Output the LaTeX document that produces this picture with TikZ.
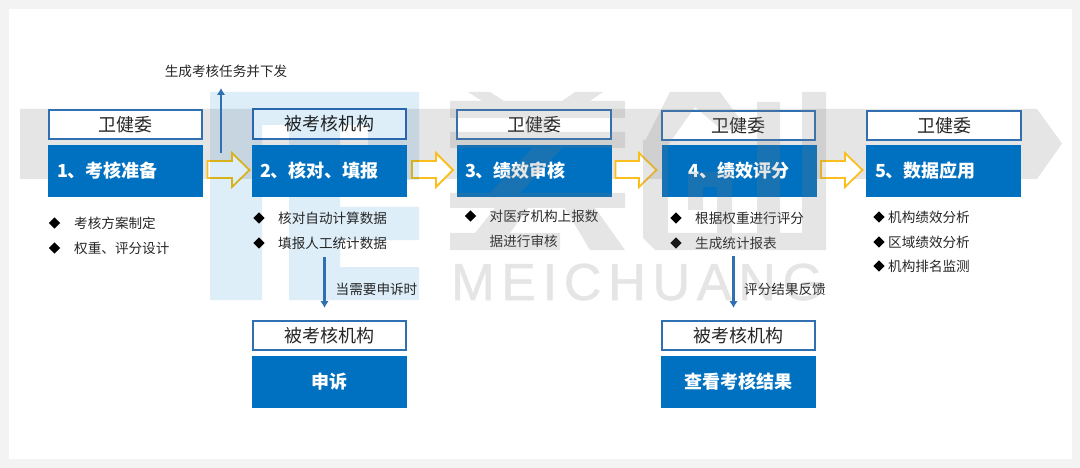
\documentclass[tikz,border=0pt]{standalone}
\usepackage{fontspec}
\setmainfont{Noto Sans CJK SC}
\newfontfamily\wmfont[LetterSpace=13,FakeBold=1]{Liberation Sans}
\usetikzlibrary{arrows.meta,shapes.geometric}
\definecolor{cardbg}{HTML}{F3F3F3}
\definecolor{bandgray}{HTML}{E5E5E5}
\definecolor{boxblue}{HTML}{0070C0}
\definecolor{edgeblue}{HTML}{2F6FB2}
\definecolor{wmblue}{HTML}{DDEEF9}
\definecolor{arrowyellow}{HTML}{FABF1E}
\definecolor{inktext}{HTML}{262626}
\definecolor{wmgray}{HTML}{808080}
\tikzset{
  labelbox/.style={draw=edgeblue,line width=1.6pt,fill=white,minimum width=153.5pt,minimum height=29.5pt,inner sep=0pt,outer sep=0pt,font=\fontsize{18}{18}\selectfont,text=inktext},
  bluebox/.style={fill=boxblue,minimum width=155pt,minimum height=52pt,inner sep=0pt,outer sep=0pt,text=white,font=\fontsize{18}{18}\selectfont\bfseries},
  dot/.style={diamond,fill=black,inner sep=0pt,minimum width=11.5pt,minimum height=11.5pt},
  note/.style={anchor=west,inner sep=0pt,text=inktext,font=\fontsize{13.6}{13.6}\selectfont},
  yarrow/.style={draw=arrowyellow,line width=1.8pt,fill=white,line join=miter},
  link/.style={draw=edgeblue,line width=2.4pt,-{Latex[length=7pt,width=8.5pt]}}
}
\newcommand{\yblock}[3]{\draw[yarrow] (#1,161)--(#2,161)--(#2,153)--(#3,170)--(#2,187)--(#2,178)--(#1,178)--cycle;}
\begin{document}
\begin{tikzpicture}[x=1pt,y=-1pt]
\useasboundingbox (0,0) rectangle (1080,468);
\fill[cardbg] (0,0) rectangle (1080,468);
\fill[white] (9,9) rectangle (1072,459);
% band
\fill[bandgray] (20,109)--(1037,109)--(1062,143.5)--(1037,179)--(20,179)--cycle;
% block arrows
\yblock{207.5}{232}{249.5}
\yblock{412}{436}{453}
\yblock{615.5}{639}{656.5}
\yblock{821}{845}{862.5}
% label boxes
\node[labelbox] (l1) at (125.5,124.5) {卫健委};
\node[labelbox] (l2) at (329.5,124) {被考核机构};
\node[labelbox] (l3) at (534,124.5) {卫健委};
\node[labelbox] (l4) at (738.5,125.5) {卫健委};
\node[labelbox] (l5) at (944,125.5) {卫健委};
\node[labelbox] (l6) at (329.5,335.5) {被考核机构};
\node[labelbox] (l7) at (738.5,335.5) {被考核机构};
% pale blue watermark
\begin{scope}[blend mode=multiply]
\fill[wmblue] (210,92)--(419,92)--(419,180)--(368,180)--(368,125)--(340,125)--(340,207)--(419,207)--(419,240)--(340,240)--(340,267)--(419,267)--(419,300)--(289,300)--(289,125)--(262,125)--(262,300)--(210,300)--cycle;
\end{scope}
% blue boxes
\node[bluebox] (b1) at (125.5,171) {\begin{minipage}{137pt}\raggedright 1、考核准备\end{minipage}};
\node[bluebox] (b2) at (329.5,171) {\begin{minipage}{139pt}\raggedright 2、核对、填报\end{minipage}};
\node[bluebox] (b3) at (534.5,171) {\begin{minipage}{139pt}\raggedright 3、绩效审核\end{minipage}};
\node[bluebox] (b4) at (739,171) {\raisebox{-2pt}{4、绩效评分}};
\node[bluebox] (b5) at (943.5,171) {\begin{minipage}{137pt}\raggedright 5、数据应用\end{minipage}};
\node[bluebox] (b6) at (329.5,382) {申诉};
\node[bluebox] (b7) at (738.5,382) {查看考核结果};
% connectors
\coordinate (up0) at (221,153);
\coordinate (up1) at (221,88);
\coordinate (da0) at (324.5,257);
\coordinate (da1) at (324.5,308);
\coordinate (db0) at (733.5,256);
\coordinate (db1) at (733.5,308);
\draw[link] (up0)--(up1);
\draw[link] (da0)--(da1);
\draw[link] (db0)--(db1);
% texts
\node[note,anchor=center] (t0) at (226,71) {生成考核任务并下发};
\node[note] (t11) at (74,223) {考核方案制定};
\node[note] (t12) at (74,248) {权重、评分设计};
\node[dot] (d11) at (54.5,223) {};
\node[dot] (d12) at (54.5,248) {};
\node[note] (t21) at (278,218) {核对自动计算数据};
\node[note] (t22) at (278,243) {填报人工统计数据};
\node[dot] (d21) at (259,218) {};
\node[dot] (d22) at (259,243) {};
\node[note] (t31) at (489.5,216) {对医疗机构上报数};
\node[note] (t32) at (489.5,241) {据进行审核};
\node[dot] (d31) at (470.5,216) {};
\node[note] (t41) at (695,218) {根据权重进行评分};
\node[note] (t42) at (695,243) {生成统计报表};
\node[dot] (d41) at (676,218) {};
\node[dot] (d42) at (676,243) {};
\node[note] (t51) at (888,217) {机构绩效分析};
\node[note] (t52) at (888,242) {区域绩效分析};
\node[note] (t53) at (888,266) {机构排名监测};
\node[dot] (d51) at (879,217) {};
\node[dot] (d52) at (879,242) {};
\node[dot] (d53) at (879,266) {};
\node[note] (n1) at (335.5,289) {当需要申诉时};
\node[note] (n2) at (744,289) {评分结果反馈};
% grey watermark
\begin{scope}[transparency group,opacity=0.2]
% mei
\fill[wmgray] (468,92)--(490,92)--(504,101)--(482,101)--cycle;
\fill[wmgray] (575,92)--(603,92)--(590,101)--(562,101)--cycle;
\fill[wmgray] (450,101) rectangle (625,118);
\fill[wmgray] (450,132) rectangle (625,148);
\fill[wmgray] (525,118) rectangle (548,148);
\fill[wmgray] (532,148)--(562,148)--(520,193)--(490,193)--cycle;
\fill[wmgray] (450,193) rectangle (625,208);
\fill[wmgray] (495,208)--(528,208)--(510,233)--(475,233)--cycle;
\fill[wmgray] (450,233) rectangle (560,250);
\fill[wmgray] (565,208)--(595,208)--(625,250)--(590,250)--cycle;
% chuang
\fill[wmgray] (670,92)--(720,92)--(748,130)--(722,130)--(695,107)--(668,145)--(643,145)--cycle;
\fill[wmgray] (643,140)--(668,140)--(668,233)--(826,233)--(826,250)--(655,250)--(643,238)--cycle;
\fill[wmgray] (688,172)--(732,172)--(732,233)--(717,233)--(717,187)--(703,187)--(703,210)--(688,210)--cycle;
\fill[wmgray] (757,102) rectangle (780,233);
\fill[wmgray] (802,92) rectangle (826,233);
\node[anchor=base west,inner sep=0pt,text=wmgray,font=\fontsize{52}{52}\selectfont\wmfont] (wm) at (451,300) {MEICHUANG};
\end{scope}
\end{tikzpicture}
\end{document}
